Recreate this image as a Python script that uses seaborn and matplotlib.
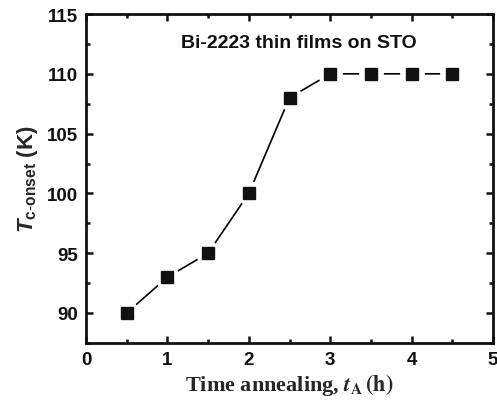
import matplotlib
matplotlib.use("Agg")
import matplotlib.pyplot as plt
import seaborn as sns
import pandas as pd
from matplotlib.ticker import MultipleLocator

# Data
time_h = [0.5, 1.0, 1.5, 2.0, 2.5, 3.0, 3.5, 4.0, 4.5]
tc_onset = [90, 93, 95, 100, 108, 110, 110, 110, 110]

df = pd.DataFrame({"t": time_h, "Tc": tc_onset})

sns.set_theme(style="ticks")
plt.rcParams["font.family"] = ["Liberation Sans", "DejaVu Sans"]
plt.rcParams["mathtext.fontset"] = "custom"
plt.rcParams["mathtext.rm"] = "Liberation Sans"
plt.rcParams["mathtext.bf"] = "Liberation Sans:bold"
plt.rcParams["mathtext.it"] = "Liberation Sans:italic"
plt.rcParams["mathtext.bfit"] = "Liberation Sans:bold:italic"

fig = plt.figure(figsize=(4.97, 4.06), dpi=100)
ax = fig.add_axes([0.173, 0.153, 0.819, 0.810])

# connecting line with white halo markers to leave a gap round each point
sns.lineplot(data=df, x="t", y="Tc", ax=ax, color="black", lw=1.2,
             marker="o", markersize=17, markerfacecolor="white",
             markeredgecolor="white", estimator=None, sort=True, zorder=2)
ax.plot(df["t"], df["Tc"], ls="none", marker="s", markersize=9,
        color="#111111", zorder=3)

ax.set_xlim(0, 5)
ax.set_ylim(87.5, 115)
ax.xaxis.set_major_locator(MultipleLocator(1))
ax.xaxis.set_minor_locator(MultipleLocator(0.5))
ax.yaxis.set_major_locator(MultipleLocator(5))
ax.yaxis.set_minor_locator(MultipleLocator(2.5))
ax.tick_params(which="both", direction="in", top=True, right=True,
               width=1.8, colors="#111111", labelsize=13.5, pad=6)
ax.tick_params(which="major", length=5)
ax.tick_params(which="minor", length=3)
for lab in ax.get_xticklabels() + ax.get_yticklabels():
    lab.set_fontweight("bold")
for sp in ax.spines.values():
    sp.set_linewidth(2)
    sp.set_color("#111111")

ax.set_xlabel(r"Time annealing, $\mathbfit{t}_{\mathbf{A}}\,\mathbf{(h)}$",
              fontsize=16, fontweight="bold", family="Liberation Serif",
              math_fontfamily="stix", labelpad=2)
ax.set_ylabel(r"$\mathbfit{T}_{\mathbf{c\text{-}onset}}$ (K)",
              fontsize=16, fontweight="bold", labelpad=5)

ax.text(2.62, 112.6, "Bi-2223 thin films on STO", ha="center", va="center",
        fontsize=14, fontweight="bold", color="#111111")

fig.savefig("out.png", dpi=100)
